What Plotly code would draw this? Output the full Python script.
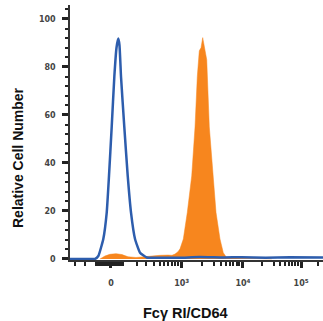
import plotly.graph_objects as go

# x positions in display (decade-like) units; 0 -> 1.82, 10^3 -> 3, 10^4 -> 4.02, 10^5 -> 4.99
blue_x = [1.138, 1.40, 1.555, 1.61, 1.693, 1.75, 1.788, 1.833, 1.877, 1.913, 1.943, 1.963,
          1.988, 2.043, 2.10, 2.155, 2.222, 2.305, 2.417, 2.64, 2.97, 3.3, 3.7, 4.0, 4.4, 4.8, 5.355]
blue_y = [0.0, 0.0, 0.0, 1.2, 8.3, 19.3, 34.6, 55, 76, 88, 91.8, 89,
          76, 55, 34.6, 19.3, 8.3, 2.6, 0.6, 0.5, 0.5, 0.8, 0.6, 0.7, 0.5, 0.7, 0.6]

orange_x = [1.638, 1.72, 1.80, 1.905, 2.005, 2.105, 2.238, 2.388, 2.505, 2.638, 2.772, 2.838,
            2.888, 2.938, 2.972, 3.027, 3.093, 3.167, 3.222, 3.26, 3.293, 3.322, 3.35, 3.372,
            3.417, 3.46, 3.517, 3.572, 3.638, 3.693, 3.75, 4.0, 4.5]
orange_y = [0.0, 1.2, 1.9, 2.2, 1.8, 0.9, 0.6, 0.9, 1.4, 1.5, 1.6, 1.5,
            2.0, 3.0, 4.2, 8.3, 19.3, 34.6, 55, 76, 86.7, 88, 92.2, 89,
            83, 55, 34.6, 19.3, 8.3, 2.6, 0.5, 0.3, 0.0]

x_tick_pos = [1.82, 3.0, 4.02, 4.99]
x_tick_text = ["0", "10<sup>3</sup>", "10<sup>4</sup>", "10<sup>5</sup>"]
y_tick_vals = [0, 20, 40, 60, 80, 100]

x_minor = [1.225, 1.39, 1.57, 1.60, 1.64, 1.67, 1.70, 1.73, 1.76, 1.79, 1.85, 1.88, 1.91,
           1.94, 1.97, 2.0, 2.025, 2.25, 2.405, 2.54, 2.64, 2.705, 2.77, 2.83, 2.89, 2.945,
           3.335, 3.53, 3.65, 3.74, 3.805, 3.86, 3.915, 3.96, 4.0,
           4.335, 4.53, 4.64, 4.72, 4.79, 4.845, 4.895, 4.945, 5.275]

fig = go.Figure()
fig.add_trace(go.Scatter(x=orange_x, y=orange_y, mode="lines", fill="tozeroy",
                         line=dict(color="#F7861E", width=0.5), fillcolor="#F7861E",
                         hoverinfo="skip", showlegend=False))
fig.add_trace(go.Scatter(x=blue_x, y=blue_y, mode="lines",
                         line=dict(color="#2D5DAD", width=2.5, shape="spline", smoothing=0.4),
                         hoverinfo="skip", showlegend=False))

tickfont = dict(family="DejaVu Sans", size=8, color="#444444", weight="bold")
fig.update_layout(
    width=323, height=321,
    margin=dict(l=70, r=0, t=5, b=61),
    paper_bgcolor="white", plot_bgcolor="white",
    font=dict(family="Liberation Sans"),
    xaxis=dict(range=[1.138, 5.355], showgrid=False, zeroline=False,
               showline=True, linecolor="#333333", linewidth=1.5,
               tickmode="array", tickvals=x_tick_pos, ticktext=x_tick_text,
               ticks="outside", ticklen=6, tickwidth=2.5, tickcolor="#222222",
               tickfont=tickfont, ticklabelstandoff=9,
               minor=dict(tickmode="array", tickvals=x_minor, ticks="outside",
                          ticklen=4, tickwidth=1.5, tickcolor="#222222")),
    yaxis=dict(range=[-0.45, 105.8], showgrid=False, zeroline=False,
               showline=True, linecolor="#333333", linewidth=1.5,
               tickmode="array", tickvals=y_tick_vals,
               ticks="outside", ticklen=6, tickwidth=2.5, tickcolor="#222222",
               tickfont=tickfont, ticklabelstandoff=5,
               minor=dict(dtick=4, ticks="outside", ticklen=3, tickwidth=1.5,
                          tickcolor="#222222")),
)
fig.add_annotation(text="<b>Fcγ RI/CD64</b>", xref="paper", yref="paper",
                   x=(185.5 - 70) / 253, y=(260 - 313) / 255, showarrow=False,
                   font=dict(family="Liberation Sans", size=14.5, color="#111111"),
                   xanchor="center", yanchor="middle")
fig.add_annotation(text="<b>Relative Cell Number</b>", xref="paper", yref="paper",
                   x=(18 - 70) / 253, y=(260 - 158) / 255, showarrow=False, textangle=-90,
                   font=dict(family="Liberation Sans", size=14, color="#111111"),
                   xanchor="center", yanchor="middle")
fig.write_html("out.html", config={"displayModeBar": False},
               post_script="document.body.style.margin='0';")
